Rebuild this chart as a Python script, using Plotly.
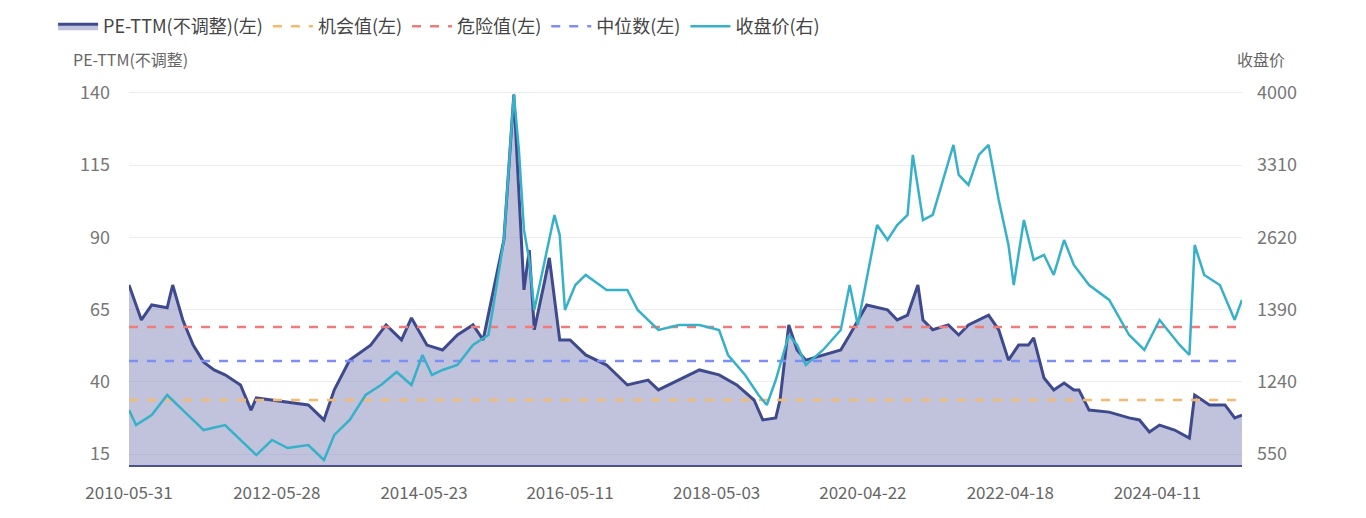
import plotly.graph_objects as go

pe_dates = ["2010-05-31","2010-07-31","2010-09-20","2010-12-05","2011-01-01","2011-02-20","2011-04-12","2011-06-03","2011-07-24","2011-09-16","2011-12-01","2012-01-22","2012-02-17","2012-05-04","2012-07-20","2012-10-30","2013-01-15","2013-03-07","2013-05-22","2013-09-02","2013-11-17","2014-02-01","2014-03-22","2014-06-06","2014-08-22","2014-11-03","2015-01-19","2015-03-10","2015-04-30","2015-06-20","2015-08-08","2015-09-02","2015-09-27","2015-10-23","2015-11-17","2016-01-08","2016-01-30","2016-03-21","2016-05-11","2016-07-27","2016-11-07","2017-02-17","2017-05-30","2017-07-20","2017-10-30","2018-02-07","2018-05-15","2018-08-10","2018-11-03","2018-12-16","2019-02-18","2019-03-11","2019-04-23","2019-06-03","2019-07-16","2019-10-09","2020-01-04","2020-02-17","2020-03-28","2020-05-11","2020-08-21","2020-10-08","2020-11-28","2020-12-24","2021-01-18","2021-02-12","2021-04-01","2021-06-17","2021-08-07","2021-09-24","2021-11-14","2022-01-01","2022-02-20","2022-04-09","2022-05-29","2022-07-16","2022-08-11","2022-10-01","2022-11-18","2023-01-08","2023-02-25","2023-03-22","2023-05-11","2023-08-18","2023-11-24","2024-01-14","2024-03-03","2024-04-22","2024-07-05","2024-09-16","2024-10-12","2024-12-24","2025-03-10","2025-04-27","2025-06-02"]
pe_values = [73.5,61.4,66.6,65.6,73.5,61.4,52.7,46.8,44.1,42.4,38.9,30.2,34.4,33.7,33.0,32.0,26.8,37.2,47.5,52.7,59.7,54.5,62.1,52.7,51.0,56.2,59.7,54.5,71.8,89.1,139.3,103.0,71.8,85.6,58.0,75.2,82.9,54.5,54.5,49.3,45.8,38.9,40.6,37.2,40.6,44.1,42.4,38.9,33.7,26.8,27.5,33.7,59.7,51.0,47.5,49.3,51.0,56.2,61.4,66.6,64.9,61.4,63.1,68.3,73.5,61.4,58.0,59.7,56.2,59.7,61.4,63.1,58.0,47.5,52.7,52.7,55.2,41.3,37.2,39.6,37.2,37.2,30.2,29.5,27.5,26.8,22.6,25.0,23.3,20.5,35.4,32.0,32.0,27.5,28.5]

price_dates = ["2010-05-31","2010-07-05","2010-09-20","2010-12-05","2011-02-20","2011-06-03","2011-09-16","2011-11-06","2012-02-17","2012-05-04","2012-07-20","2012-10-30","2013-01-15","2013-03-07","2013-05-22","2013-08-08","2013-10-23","2014-01-08","2014-03-22","2014-05-15","2014-07-01","2014-08-22","2014-11-03","2015-01-19","2015-04-05","2015-04-30","2015-06-20","2015-08-08","2015-09-02","2015-09-27","2015-10-23","2015-11-17","2016-01-08","2016-02-24","2016-03-21","2016-04-16","2016-06-06","2016-07-27","2016-11-07","2017-02-17","2017-04-09","2017-07-20","2017-10-30","2018-02-07","2018-05-15","2018-06-28","2018-09-20","2018-11-25","2019-01-05","2019-02-18","2019-04-23","2019-06-03","2019-07-16","2019-10-09","2020-01-04","2020-02-17","2020-03-28","2020-07-01","2020-08-21","2020-10-08","2020-11-28","2020-12-24","2021-02-12","2021-04-01","2021-05-22","2021-07-12","2021-08-07","2021-09-24","2021-11-14","2022-01-01","2022-02-20","2022-04-09","2022-05-05","2022-06-24","2022-08-11","2022-10-01","2022-11-18","2023-01-08","2023-02-25","2023-05-11","2023-08-18","2023-11-24","2024-02-07","2024-04-22","2024-07-30","2024-09-16","2024-10-12","2024-11-28","2025-02-13","2025-04-27","2025-06-02"]
price_values = [970,827,923,1114,970,779,827,732,540,684,607,636,493,732,875,1114,1209,1334,1209,1496,1305,1353,1401,1592,1687,1974,2595,3990,3455,2691,2404,1926,2404,2834,2643,1926,2165,2261,2117,2117,1926,1735,1783,1783,1735,1496,1305,1114,1018,1257,1687,1592,1401,1544,1735,2165,1783,2738,2595,2738,2834,3408,2786,2834,3169,3503,3217,3121,3408,3503,2977,2547,2165,2786,2404,2452,2261,2595,2356,2165,2022,1687,1544,1831,1592,1496,2547,2261,2165,1831,2022]

opportunity = 33.7
danger = 59.0
median = 47.2

left_ticks = [15, 40, 65, 90, 115, 140]
right_tickvals = [550, 1240, 1930, 2620, 3310, 4000]
right_ticktext = ["550", "1240", "1390", "2620", "3310", "4000"]
x_ticks = ["2010-05-31","2012-05-28","2014-05-23","2016-05-11","2018-05-03","2020-04-22","2022-04-18","2024-04-11"]

FONT = "Noto Sans CJK SC"
x0, x1 = pe_dates[0], pe_dates[-1]

fig = go.Figure()
fig.add_trace(go.Scatter(x=pe_dates, y=pe_values, name="PE-TTM(不调整)(左)", mode="lines",
                         line=dict(color="#3f4a8e", width=3), fill="tozeroy",
                         fillcolor="rgba(140,145,190,0.55)"))
fig.add_trace(go.Scatter(x=[x0, x1], y=[opportunity]*2, name="机会值(左)", mode="lines",
                         line=dict(color="#f7b96b", width=2.5, dash="dash")))
fig.add_trace(go.Scatter(x=[x0, x1], y=[danger]*2, name="危险值(左)", mode="lines",
                         line=dict(color="#f07b7b", width=2.5, dash="dash")))
fig.add_trace(go.Scatter(x=[x0, x1], y=[median]*2, name="中位数(左)", mode="lines",
                         line=dict(color="#7f8ef5", width=2.5, dash="dash")))
fig.add_trace(go.Scatter(x=price_dates, y=price_values, name="收盘价(右)", mode="lines",
                         line=dict(color="#36b1c9", width=2.5), yaxis="y2"))

tickfont = dict(family=FONT, size=18, color="#777")
fig.update_layout(
    width=1366, height=518, plot_bgcolor="white", paper_bgcolor="white",
    margin=dict(l=121, r=132, t=82, b=61, autoexpand=False),
    font=dict(family=FONT, color="#555"),
    legend=dict(orientation="h", x=0.033, y=1.0, xref="container", yref="container",
                yanchor="top", itemwidth=40, font=dict(family=FONT, size=18, color="#444")),
    xaxis=dict(type="date", range=[x0, x1], tickvals=x_ticks, ticktext=x_ticks, automargin=False,
               showgrid=False, showline=True, linecolor="#4a5290", linewidth=2,
               ticks="", ticklabelstandoff=12, tickfont=dict(family=FONT, size=17, color="#666")),
    yaxis=dict(range=[11.2, 141], tickvals=left_ticks, showgrid=True, gridcolor="#ececf4",
               zeroline=False, tickfont=tickfont, ticklabelstandoff=18, automargin=False),
    yaxis2=dict(range=[445, 4028], tickvals=right_tickvals, ticktext=right_ticktext,
                overlaying="y", side="right", showgrid=False, zeroline=False,
                tickfont=tickfont, ticklabelstandoff=14, automargin=False),
)
fig.add_annotation(text="PE-TTM(不调整)", xref="paper", yref="paper", x=-0.052, y=1.12,
                   xanchor="left", showarrow=False, font=dict(family=FONT, size=16, color="#666"))
fig.add_annotation(text="收盘价", xref="paper", yref="paper", x=0.994, y=1.12,
                   xanchor="left", showarrow=False, font=dict(family=FONT, size=16, color="#666"))
fig.write_html("out.html")
